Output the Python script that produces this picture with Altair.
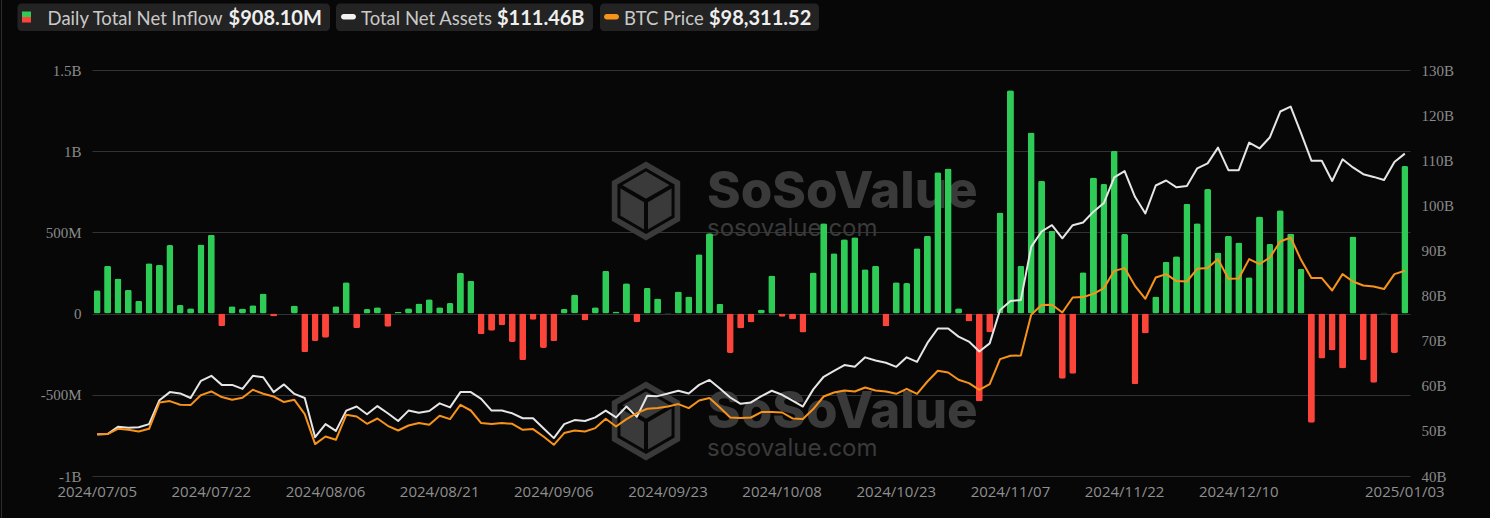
import altair as alt
import pandas as pd

# ---------------- data ----------------
HOLIDAYS = ["2024-09-02", "2024-11-28", "2024-12-25", "2025-01-01"]
trade_days = [d.strftime("%Y/%m/%d") for d in pd.bdate_range("2024-07-05", "2025-01-03")
              if d.strftime("%Y-%m-%d") not in HOLIDAYS]

label_dates = ["2024/07/05", "2024/07/22", "2024/08/06", "2024/08/21", "2024/09/06",
               "2024/09/23", "2024/10/08", "2024/10/23", "2024/11/07", "2024/11/22",
               "2024/12/10", "2025/01/03"]

# daily total net inflow, $M
inflow_m = [
    143.1, 294.9, 216.4, 147.0, 78.9, 310.1, 301.0, 422.5, 53.3, 33.0, 425.0, 485.4, -78.0,
    44.5, 31.1, 51.8, 124.1, -18.3, 0.0, 50.6, -237.4, -168.4, -148.6, 45.1, 192.4,
    -89.7, 27.9, 39.1, -81.4, 11.1, 32.6, 61.9, 88.1, 39.4, 64.9, 252.0, 202.6, -127.0,
    -105.2, -71.7, -175.1, -287.8, -37.2, -211.2, -169.9, 28.7, 116.9, -43.0, 39.0, 263.1, 12.8,
    186.8, -52.8, 158.3, 92.9, 4.5, 136.0, 105.9, 365.7, 494.4, 61.3, -242.5, -91.8, -54.1,
    25.6, 235.2, -18.7, -35.6, -117.0, 253.5, 555.9, 371.0, 458.5, 470.5, 273.7, 294.3,
    -79.1, 192.4, 188.0, 402.1, 479.4, 870.0, 893.3, 33.0, -49.0, -541.1, -116.8, 621.9,
    1376.0, 293.9, 1114.4, 817.5, 510.1, -400.7, -370.4, 254.8, 837.3, 798.0, 1002.0, 490.3, -435.3,
    -122.8, 105.8, 320.0, 353.6, 676.0, 556.8, 766.7, 376.6, 478.6, 438.5, 223.1, 597.3, 428.9,
    636.9, 493.3, 275.2, -671.9, -277.2, -226.5, -338.4, 475.2, -287.7, -426.1, 5.3, -242.3, 908.1,
]

# total net assets, $B
net_assets_b = [
    49.2, 49.3, 50.9, 50.7, 50.8, 51.5, 56.8, 58.6, 58.3, 57.3, 61.1, 62.2, 60.2, 60.2, 59.3,
    62.2, 61.9, 58.6, 60.3, 58.2, 57.3, 48.6, 51.5, 50.0, 54.5,
    55.4, 53.7, 55.5, 53.9, 52.2, 54.5, 54.0, 54.4, 56.1, 55.2, 58.6, 58.6, 57.1, 54.5, 54.5,
    53.9, 52.8, 52.8, 50.6, 48.4, 51.5, 52.4, 52.2, 53.0, 54.5, 53.0,
    55.4, 53.1, 57.8, 57.7, 58.3, 58.9, 58.3, 60.2, 61.3, 59.4, 57.4, 56.0, 56.3, 57.7, 58.9,
    58.0, 56.7, 55.4, 59.2, 62.0, 63.3, 64.6, 64.2, 66.3, 65.6,
    65.1, 64.2, 66.3, 65.3, 69.5, 72.7, 72.7, 70.9, 69.8, 67.6, 69.4, 76.8, 78.8, 79.0, 90.8,
    94.2, 95.6, 92.7, 95.6, 96.2, 98.6, 100.5, 106.2, 107.6, 101.9,
    98.2, 104.4, 105.5, 104.0, 104.3, 108.2, 109.3, 112.8, 107.8, 107.8, 113.9, 112.6, 115.1,
    120.8, 121.9, 116.0, 109.9, 109.9, 105.4, 110.2, 108.4, 106.9, 106.3, 105.6, 109.6, 111.46,
]

# BTC price, $
btc_price = [
    56600, 56600, 57960, 57700, 57270, 57960, 64675, 65030, 64090, 64010, 66565, 67485, 66055,
    65365, 65875, 67920, 66900, 66205, 64780, 65365, 61710, 54050, 55990, 55150, 61535,
    61100, 59235, 60590, 58725, 57525, 58800, 59415, 58980, 61280, 60435, 64090, 62630, 59415,
    59160, 59415, 59235, 57700, 57880, 55990, 53870, 56860, 57525, 57270, 58140, 60510, 58545,
    60435, 61970, 63065, 63245, 63655, 64265, 63245, 65185, 65800, 63400, 60845, 60690, 60845,
    62225, 62225, 62120, 60590, 60435, 62990, 66205, 67230, 67740, 67485, 68505, 67740,
    67485, 66900, 68175, 66900, 70040, 72770, 72335, 70470, 69630, 67920, 69375, 75760, 76600,
    76680, 87075, 89550, 89630, 87660, 91490, 91595, 92435, 93890, 98300, 99000, 94480,
    91160, 96600, 97470, 95680, 95580, 98820, 99000, 101300, 96270, 96345, 101300, 100020,
    101710, 105795, 106815, 101120, 96450, 96450, 93280, 97470, 95580, 94560, 94300, 93640,
    97470, 98311.52,
]

df = pd.DataFrame({
    "date": trade_days,
    "inflow": [v * 1e6 for v in inflow_m],
    "assets": net_assets_b,
    "btc": btc_price,
})

# ---------------- style ----------------
BG = "#070707"
GREEN = "#2ecc57"
RED = "#fb443a"
WHITE_LINE = "#e6e6e6"
ORANGE = "#f7931a"
GRID = "#323232"
AXIS_LABEL = "#8a8a8a"
WM = "#3a3a3a"

OX, OY = 92, 70          # plot origin inside the 1490x518 page
PW, PH = 1318, 406       # plot size

one = pd.DataFrame({"k": [0]})


def deco_text(txt, x, y, size, color, font="Lato", weight="normal"):
    return alt.Chart(one).mark_text(
        text=txt, align="left", baseline="alphabetic", font=font,
        fontSize=size, fontWeight=weight, color=color,
    ).encode(x=alt.value(x - OX), y=alt.value(y - OY))


def deco_rect(x1, x2, y1, y2, color, r=0):
    return alt.Chart(one).mark_rect(color=color, cornerRadius=r, opacity=1).encode(
        x=alt.value(x1 - OX), x2=alt.value(x2 - OX),
        y=alt.value(y1 - OY), y2=alt.value(y2 - OY))


HEX = "M0,-1L0.866,-0.5L0.866,0.5L0,1L-0.866,0.5L-0.866,-0.5Z"
SPOKES = "M0,0L0,1M0,0L-0.866,-0.5M0,0L0.866,-0.5"


def deco_logo(cx, cy):
    base = alt.Chart(one).mark_point(
        shape=HEX, filled=True, fill=WM, size=6241, strokeWidth=0, opacity=1
    ).encode(x=alt.value(cx - OX), y=alt.value(cy - OY))
    ring = alt.Chart(one).mark_point(
        shape=HEX, filled=False, stroke=BG, strokeWidth=3, size=3900, opacity=1
    ).encode(x=alt.value(cx - OX), y=alt.value(cy - OY))
    spokes = alt.Chart(one).mark_point(
        shape=SPOKES, filled=False, stroke=BG, strokeWidth=4, size=3900, opacity=1
    ).encode(x=alt.value(cx - OX), y=alt.value(cy - OY))
    return [base, ring, spokes]


def watermark(dy):
    return deco_logo(646, 201 + dy) + [
        deco_text("SoSoValue", 707, 208 + dy, 51, WM, font="Inter", weight=800),
        deco_text("sosovalue.com", 707, 236 + dy, 24, WM, font="Inter"),
    ]


x_enc = alt.X("date:O", sort=None,
              scale=alt.Scale(paddingInner=0.33, paddingOuter=0.165),
              axis=alt.Axis(values=label_dates, labelAngle=0, title=None, ticks=False,
                            domain=False, grid=False, labelColor="#8f8f8f",
                            labelFont="Open Sans", labelFontSize=15, labelPadding=8,
                            labelOverlap=False, labelBound=False))
x_plain = alt.X("date:O", sort=None)

bars = alt.Chart(df).mark_bar(cornerRadius=2).encode(
    x=x_enc,
    y=alt.Y("inflow:Q",
            scale=alt.Scale(domain=[-1e9, 1.5e9], nice=False, zero=False),
            axis=alt.Axis(orient="left", values=[-1e9, -5e8, 0, 5e8, 1e9, 1.5e9],
                          labelExpr="datum.value == 0 ? '0' : (abs(datum.value) >= 1e9 ? (datum.value/1e9) + 'B' : (datum.value/1e6) + 'M')",
                          title=None, ticks=False, domain=False, grid=True,
                          gridColor=GRID, gridWidth=1, labelColor=AXIS_LABEL,
                          labelFont="Liberation Serif", labelFontSize=15, labelPadding=11)),
    color=alt.condition("datum.inflow >= 0", alt.value(GREEN), alt.value(RED)),
)

assets_line = alt.Chart(df).mark_line(color=WHITE_LINE, strokeWidth=2, strokeJoin="round").encode(
    x=x_plain,
    y=alt.Y("assets:Q",
            scale=alt.Scale(domain=[40, 130], nice=False, zero=False),
            axis=alt.Axis(orient="right", values=list(range(40, 131, 10)),
                          labelExpr="datum.value + 'B'", title=None, ticks=False,
                          domain=False, grid=False, labelColor=AXIS_LABEL,
                          labelFont="Liberation Serif", labelFontSize=15, labelPadding=11)),
)

btc_line = alt.Chart(df).mark_line(color=ORANGE, strokeWidth=2, strokeJoin="round").encode(
    x=x_plain,
    y=alt.Y("btc:Q", scale=alt.Scale(domain=[45900, 149600], nice=False, zero=False), axis=None),
)

legend = [
    deco_rect(17.5, 330, 3.5, 31, "#232323", 4),
    deco_rect(336, 593, 3.5, 31, "#232323", 4),
    deco_rect(600, 819, 3.5, 31, "#232323", 4),
    deco_rect(22, 31, 11.5, 17, GREEN),
    deco_rect(22, 31, 17, 22.5, RED),
    deco_rect(341, 356, 14, 19.5, "#f2f2f2", 3),
    deco_rect(604, 619, 14, 19.5, ORANGE, 3),
    deco_text("Daily Total Net Inflow", 47.6, 24.5, 18.5, "#c9c9c9"),
    deco_text("$908.10M", 228.6, 24.5, 20, "#efefef", weight="bold"),
    deco_text("Total Net Assets", 361, 24.5, 18.5, "#c9c9c9"),
    deco_text("$111.46B", 497, 24.5, 20, "#efefef", weight="bold"),
    deco_text("BTC Price", 624, 24.5, 18.5, "#c9c9c9"),
    deco_text("$98,311.52", 709, 24.5, 20, "#efefef", weight="bold"),
]

border = alt.Chart(one).mark_rule(color="#2c2c2c", strokeWidth=1).encode(
    x=alt.value(1.5 - OX), y=alt.value(-OY), y2=alt.value(518 - OY))

layers = watermark(0) + watermark(220) + [bars, assets_line, btc_line] + legend + [border]

chart = alt.layer(*layers).resolve_scale(y="independent").properties(
    width=PW, height=PH,
    padding={"left": OX, "top": OY, "right": 1490 - OX - PW, "bottom": 518 - OY - PH},
    autosize=alt.AutoSizeParams(type="none"),
    background=BG,
).configure_view(stroke=None)

chart.save("out.html", embed_options={"renderer": "svg", "actions": False})
